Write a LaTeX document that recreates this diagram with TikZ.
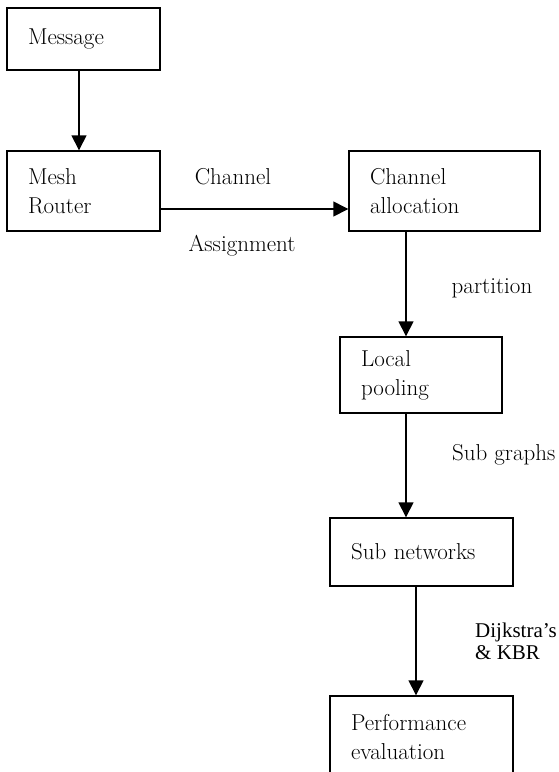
\documentclass[tikz,border=0pt]{standalone}
\usepackage{fontspec}
\newfontfamily\timesf{LiberationSerif}[Extension=.ttf, UprightFont=*-Regular]
\usetikzlibrary{arrows.meta,calc}
\begin{document}
\begin{tikzpicture}[x=1pt,y=-1pt,
  box/.style={draw, line width=1.4pt, rectangle, align=left, inner xsep=21pt, inner ysep=0pt, font=\fontsize{23}{29}\selectfont},
  lbl/.style={font=\fontsize{23}{29}\selectfont, inner sep=0pt},
  arr/.style={line width=1.4pt, -{Triangle[length=15pt,width=15pt]}}]
\useasboundingbox (0,0) rectangle (559,772);
\clip (0,0) rectangle (559,772);
\node[box, text width=111pt, minimum height=62pt] (msg) at (83.5,39) {Message};
\node[box, text width=111pt, minimum height=80pt] (mesh) at (83.5,191) {Mesh\\Router};
\node[box, text width=149pt, minimum height=80pt] (chan) at (444.5,191) {Channel\\allocation};
\node[box, text width=120pt, minimum height=76pt] (pool) at (421,375) {Local\\pooling};
\node[box, text width=141pt, minimum height=68pt] (sub) at (421.5,552) {Sub networks};
\node[box, text width=141pt, minimum height=83pt] (perf) at (421.5,737.5) {Performance\\evaluation};
\draw[arr] ($(msg.south)+(-4.5,0)$) -- ($(mesh.north)+(-4.5,0)$);
\draw[arr] ($(mesh.east)+(0,18)$) -- ($(chan.west)+(0,18)$);
\coordinate (a3) at ($(pool.north)+(-15,0)$);
\draw[arr] (a3 |- chan.south) -- (a3);
\coordinate (a4) at ($(sub.north)+(-15.5,0)$);
\draw[arr] (a4 |- pool.south) -- (a4);
\coordinate (a5) at ($(perf.north)+(-5.5,0)$);
\draw[arr] (a5 |- sub.south) -- (a5);
\node[lbl] (l1) at (233,177) {Channel};
\node[lbl] (l2) at (242,246) {Assignment};
\node[lbl] (l3) at (492,288) {partition};
\node[lbl, anchor=west] (l4) at (452,455) {Sub graphs};
\node[lbl, anchor=west, align=left, font={\timesf\fontsize{21}{22.5}\selectfont}] (l5) at (475,641.5) {Dijkstra’s\\\& KBR};
\end{tikzpicture}
\end{document}
